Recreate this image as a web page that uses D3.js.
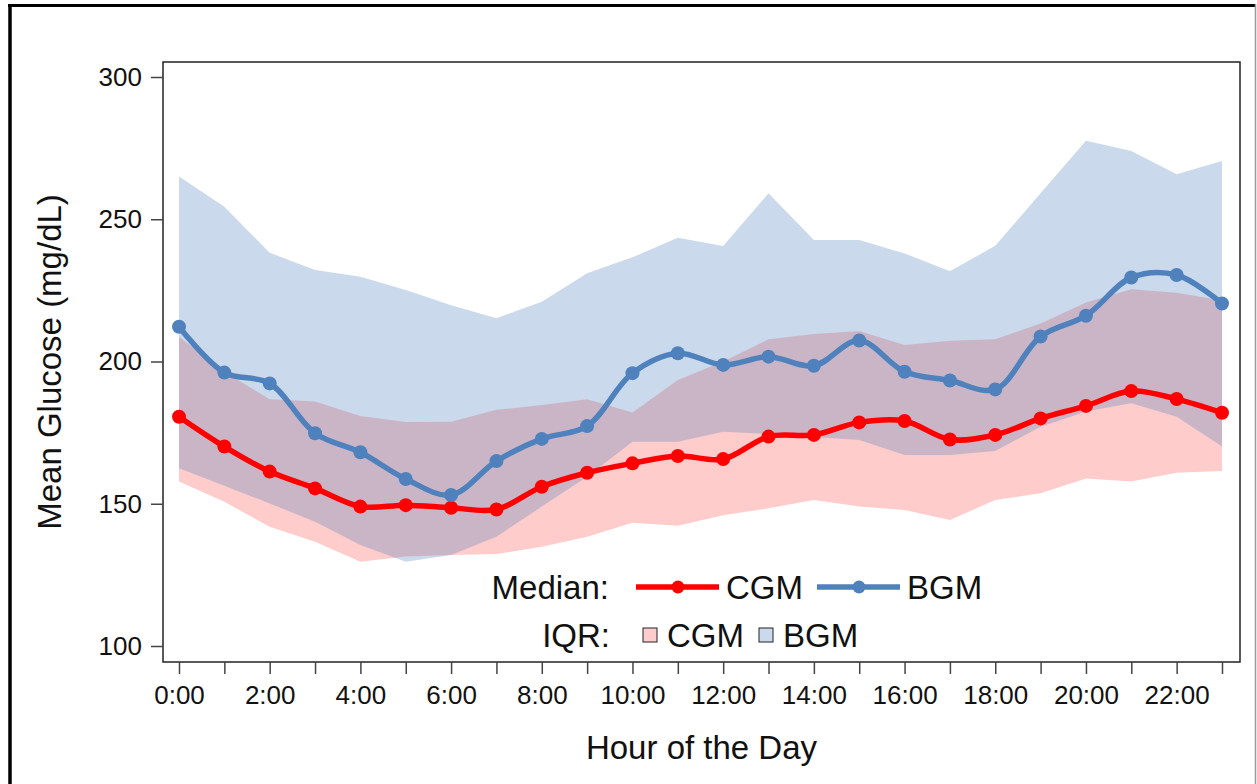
<!DOCTYPE html>
<html>
<head>
<meta charset="utf-8">
<script src="https://cdn.jsdelivr.net/npm/d3@7"></script>
<style>
    body { margin: 0; background: #fff; }
    svg { display: block; font-family: "Liberation Sans", Arial, sans-serif; }
</style>
</head>
<body>
<svg id="chart" width="1257" height="784"></svg>
<script>
// Colors
const CGM_LINE = '#ff0000';
const BGM_LINE = '#4f81bd';
const TEXT = '#111';

// Data
const hours = [0, 1, 2, 3, 4, 5, 6, 7, 8, 9, 10, 11, 12, 13, 14, 15, 16, 17, 18, 19, 20, 21, 22, 23];
const hourTicks = [0, 2, 4, 6, 8, 10, 12, 14, 16, 18, 20, 22];
const hourLabels = ["0:00", "2:00", "4:00", "6:00", "8:00", "10:00", "12:00", "14:00", "16:00", "18:00", "20:00", "22:00"];
const glucoseTicks = [100, 150, 200, 250, 300];

const cgmMedian = [180.6, 170.1, 161.3, 155.4, 149.0, 149.5, 148.6, 148.0, 156.0, 160.9, 164.2, 166.8,
                   165.7, 173.6, 174.2, 178.6, 179.1, 172.6, 174.2, 180.0, 184.4, 189.6, 186.8, 182.0];
const bgmMedian = [212.2, 196.1, 192.3, 174.8, 168.1, 158.7, 153.1, 165.0, 172.8, 177.3, 195.9, 202.9,
                   198.8, 201.7, 198.5, 207.4, 196.4, 193.3, 190.2, 208.8, 216.1, 229.5, 230.4, 220.4];
const cgmQ1 = [157.8, 150.7, 141.9, 136.6, 129.6, 131.5, 132.0, 132.3, 134.9, 138.4, 143.3, 142.3,
               146.0, 148.4, 151.3, 149.0, 147.8, 144.3, 151.3, 153.7, 158.9, 157.8, 160.9, 161.5];
const cgmQ3 = [208.7, 196.4, 186.7, 185.9, 180.8, 178.7, 178.8, 183.0, 184.7, 186.7, 182.1, 193.5,
               200.0, 207.8, 209.7, 210.7, 205.8, 207.3, 207.8, 213.4, 220.7, 225.4, 224.2, 221.4];
const bgmQ1 = [162.5, 156.3, 150.1, 143.7, 135.5, 129.6, 132.0, 138.4, 149.0, 159.5, 171.8, 171.8,
               175.3, 174.5, 173.5, 172.4, 167.1, 167.1, 168.5, 177.1, 182.4, 185.3, 180.6, 170.1];
const bgmQ3 = [265.0, 254.4, 238.2, 232.2, 229.8, 225.1, 219.8, 215.2, 221.0, 231.0, 236.6, 243.5,
               240.6, 259.1, 242.7, 242.7, 238.0, 231.7, 240.7, 259.1, 277.6, 274.0, 265.8, 270.5];

function draw() {
    const svg = d3.select("svg#chart");

    // plot frame
    const frame = {left: 163, right: 1240, top: 62, bottom: 662};

    const x = d3.scaleLinear().domain([0, 23]).range([179, 1222]);
    const y = d3.scaleLinear().domain([100, 300]).range([646, 77]);

    // outer picture border
    svg.append("line").attr("x1", 10).attr("x2", 10).attr("y1", 4).attr("y2", 784)
        .attr("stroke", "#000").attr("stroke-width", 3.5);
    svg.append("line").attr("x1", 8).attr("x2", 1255).attr("y1", 5.5).attr("y2", 5.5)
        .attr("stroke", "#000").attr("stroke-width", 3);
    svg.append("line").attr("x1", 1255.5).attr("x2", 1255.5).attr("y1", 4).attr("y2", 784)
        .attr("stroke", "#999").attr("stroke-width", 1.5);

    const rows = hours.map((h, i) => ({
        h, cm: cgmMedian[i], bm: bgmMedian[i],
        c1: cgmQ1[i], c3: cgmQ3[i], b1: bgmQ1[i], b3: bgmQ3[i]
    }));

    // IQR bands
    const bandC = d3.area().x(d => x(d.h)).y0(d => y(d.c1)).y1(d => y(d.c3));
    const bandB = d3.area().x(d => x(d.h)).y0(d => y(d.b1)).y1(d => y(d.b3));

    svg.append("path").datum(rows)
        .attr("d", bandC)
        .attr("fill", CGM_LINE).attr("fill-opacity", 0.2);
    svg.append("path").datum(rows)
        .attr("d", bandB)
        .attr("fill", BGM_LINE).attr("fill-opacity", 0.3);

    // median lines
    const series = [
        {key: "cm", color: CGM_LINE},
        {key: "bm", color: BGM_LINE}
    ];
    for (const s of series) {
        const line = d3.line()
            .curve(d3.curveCatmullRom.alpha(0.5))
            .x(d => x(d.h))
            .y(d => y(d[s.key]));
        svg.append("path").datum(rows)
            .attr("d", line)
            .attr("fill", "none")
            .attr("stroke", s.color)
            .attr("stroke-width", 5.5)
            .attr("stroke-linejoin", "round");
        svg.append("g")
            .selectAll("circle")
            .data(rows)
            .join("circle")
            .attr("cx", d => x(d.h))
            .attr("cy", d => y(d[s.key]))
            .attr("r", 7)
            .attr("fill", s.color);
    }

    // frame
    svg.append("rect")
        .attr("x", frame.left).attr("y", frame.top)
        .attr("width", frame.right - frame.left)
        .attr("height", frame.bottom - frame.top)
        .attr("fill", "none").attr("stroke", "#222").attr("stroke-width", 1.5);

    // axes
    const yAxis = svg.append("g")
        .attr("transform", `translate(${frame.left},0)`)
        .call(d3.axisLeft(y).tickValues(glucoseTicks).tickSize(12).tickPadding(9));
    const xAxis = svg.append("g")
        .attr("transform", `translate(0,${frame.bottom})`)
        .call(d3.axisBottom(x).tickValues(hours).tickSize(12).tickPadding(12)
            .tickFormat(h => {
                const i = hourTicks.indexOf(h);
                return i >= 0 ? hourLabels[i] : "";
            }));
    for (const ax of [xAxis, yAxis]) {
        ax.select(".domain").remove();
        ax.selectAll(".tick line").attr("stroke", "#444").attr("stroke-width", 1.5);
        ax.selectAll(".tick text")
            .attr("fill", TEXT)
            .style("font-size", "26px")
            .style("font-family", "'Liberation Sans', Arial, sans-serif");
    }

    // axis titles
    svg.append("text")
        .attr("transform", `translate(61,${(frame.top + frame.bottom) / 2}) rotate(-90)`)
        .attr("text-anchor", "middle")
        .attr("fill", TEXT)
        .style("font-size", "33px")
        .text("Mean Glucose (mg/dL)");
    svg.append("text")
        .attr("x", (frame.left + frame.right) / 2)
        .attr("y", 759)
        .attr("text-anchor", "middle")
        .attr("fill", TEXT)
        .style("font-size", "33px")
        .text("Hour of the Day");

    // legend
    const lg = svg.append("g").style("font-size", "33px").attr("fill", TEXT);
    const row1 = 587, row2 = 635;

    lg.append("text").attr("x", 609).attr("y", row1).attr("dy", "0.36em")
        .attr("text-anchor", "end").text("Median:");
    const medItems = [
        {x0: 636, color: CGM_LINE, label: "CGM"},
        {x0: 817, color: BGM_LINE, label: "BGM"}
    ];
    for (const it of medItems) {
        lg.append("line").attr("x1", it.x0).attr("x2", it.x0 + 83)
            .attr("y1", row1).attr("y2", row1)
            .attr("stroke", it.color).attr("stroke-width", 5.5);
        lg.append("circle").attr("cx", it.x0 + 42).attr("cy", row1).attr("r", 6.5)
            .attr("fill", it.color);
        lg.append("text").attr("x", it.x0 + 90).attr("y", row1).attr("dy", "0.36em")
            .text(it.label);
    }

    lg.append("text").attr("x", 610).attr("y", row2).attr("dy", "0.36em")
        .attr("text-anchor", "end").text("IQR:");
    const iqrItems = [
        {x0: 643, color: CGM_LINE, op: 0.2, label: "CGM"},
        {x0: 759, color: BGM_LINE, op: 0.3, label: "BGM"}
    ];
    for (const it of iqrItems) {
        lg.append("rect").attr("x", it.x0).attr("y", row2 - 7).attr("width", 14).attr("height", 14)
            .attr("fill", it.color).attr("fill-opacity", it.op)
            .attr("stroke", "#222").attr("stroke-width", 1);
        lg.append("text").attr("x", it.x0 + 24).attr("y", row2).attr("dy", "0.36em")
            .text(it.label);
    }
}

draw();
</script>
</body>
</html>
